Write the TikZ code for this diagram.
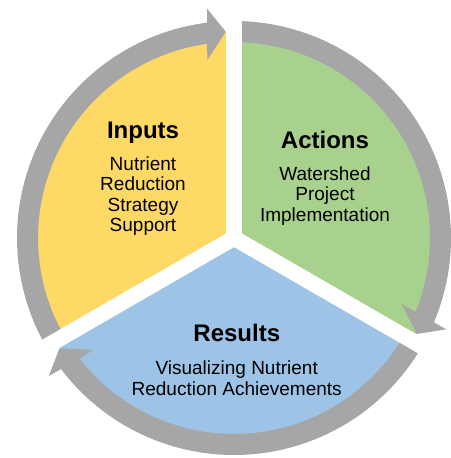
\documentclass[tikz,border=0pt]{standalone}
\usepackage{fontspec}
\setmainfont{Liberation Sans}
\definecolor{inputyellow}{HTML}{FFD966}
\definecolor{actiongreen}{HTML}{A9D18E}
\definecolor{resultblue}{HTML}{9DC3E6}
\definecolor{ringgray}{HTML}{A6A6A6}
\begin{document}
\begin{tikzpicture}[x=1pt, y=1pt,
        title/.style={font=\fontsize{24}{26}\selectfont\bfseries, inner sep=0pt, anchor=base},
        body/.style={font=\fontsize{19}{20.3}\selectfont, align=center, inner sep=0pt, anchor=north}]
        \useasboundingbox (-234,-220) rectangle (216,238);

        % Wedges (yellow, green, blue)
        \foreach \a/\col in {0/inputyellow, -120/actiongreen, -240/resultblue}
            \fill[\col, rotate=\a] (150:9.24pt) -- (92.23:206pt)
                arc[start angle=92.23, end angle=207.77, radius=206pt] -- cycle;

        % Gray arrows round the circle
        \foreach \a in {0,-120,-240}
            \fill[ringgray, rotate=\a] (207.89:217pt)
                arc[start angle=207.89, end angle=97.15, radius=217pt]
                -- (96.7:231pt) -- (92.3:206.5pt) -- (98.5:180pt) -- (97.9:196pt)
                arc[start angle=97.9, end angle=207.66, radius=196pt] -- cycle;

        % Labels
        \node[title] (inputs) at (-91,99.7) {Inputs};
        \node[body] (inputstext) at (-91,81.3) {Nutrient\\Reduction\\Strategy\\Support};
        \node[title] (actions) at (91,89.7) {Actions};
        \node[body] (actionstext) at (91,71.3) {Watershed\\Project\\Implementation};
        \node[title] (results) at (2.8,-103.7) {Results};
        \node[body] (resultstext) at (2.7,-123) {Visualizing Nutrient\\Reduction Achievements};

    \end{tikzpicture}
\end{document}
